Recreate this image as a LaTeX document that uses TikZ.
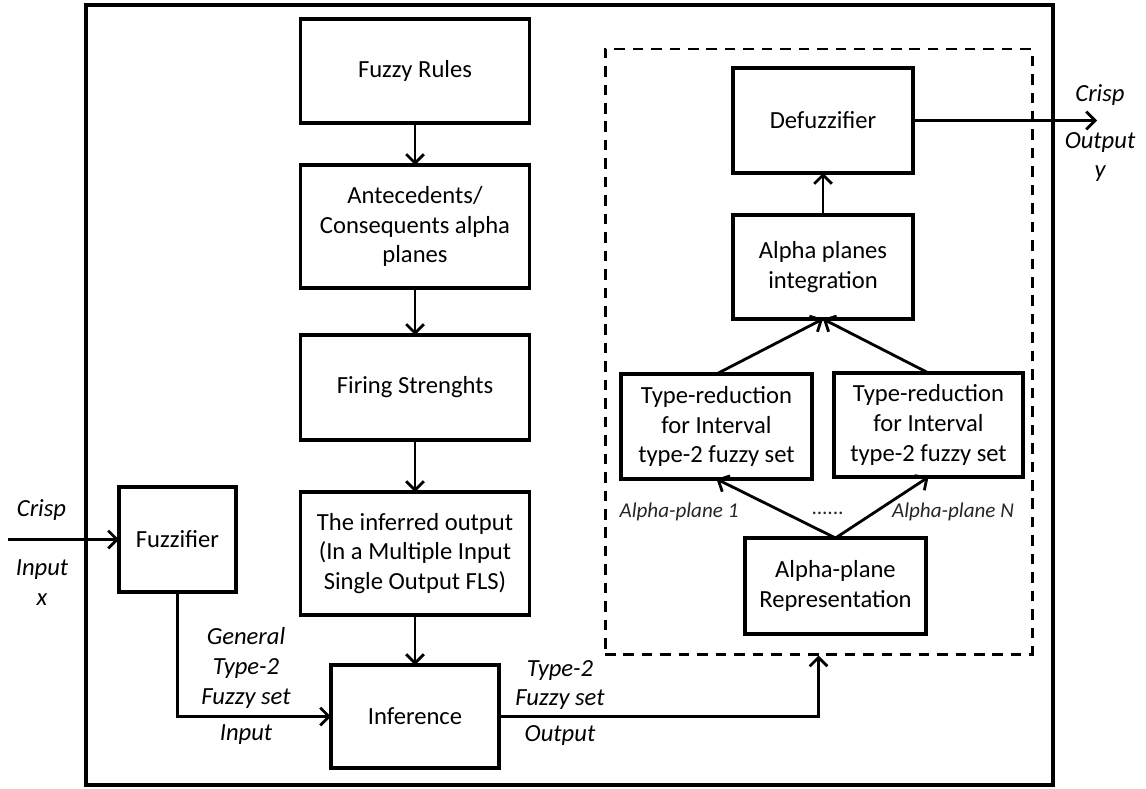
\documentclass[tikz,border=0pt]{standalone}
\usepackage{fontspec}
\setmainfont{Carlito}
\usetikzlibrary{positioning,arrows.meta}

\begin{document}
\begin{tikzpicture}[
    node distance=0.9cm,
    font=\fontsize{14}{17}\selectfont,
    % Node styles
    block/.style={draw, line width=1.8pt, align=center, minimum width=4.58cm, minimum height=2.08cm, inner sep=2pt, outer sep=0pt},
    frame/.style={draw, line width=1.8pt, inner sep=0pt},
    dframe/.style={draw, line width=1.7pt, dash pattern=on 6pt off 4.5pt, inner sep=0pt},
    lbl/.style={font=\fontsize{14}{17}\selectfont\itshape, align=center, inner sep=0pt},
    slbl/.style={font=\fontsize{12}{14}\selectfont\itshape, text=black!85, inner sep=0pt},
    arrow/.style={-{Straight Barb[length=5pt,width=10pt,line width=1.6pt]}, line width=1.6pt},
]
    \useasboundingbox (0,0) rectangle (22.92,-15.76);

    % Frames
    \node[frame, minimum width=19.34cm, minimum height=15.6cm] (fls) at (11.39,-7.9) {};
    \node[dframe, minimum width=8.54cm, minimum height=12.1cm] (alphabox) at (16.37,-7.03) {};

    % Inference chain
    \node[block] (rules) at (8.3,-1.42) {Fuzzy Rules};
    \node[block, minimum height=2.46cm, below=0.84cm of rules] (ante) {Antecedents/\\Consequents alpha\\planes};
    \node[block, minimum height=2.1cm, below=0.94cm of ante] (firing) {Firing Strenghts};
    \node[block, minimum height=2.46cm, below=1.04cm of firing] (inferred) {The inferred output\\(In a Multiple Input\\Single Output FLS)};
    \node[block, minimum width=3.36cm, minimum height=2.06cm, below=1.0cm of inferred] (inference) {Inference};
    \node[block, minimum width=2.34cm, minimum height=2.1cm] (fuzz) at (3.55,-10.79) {Fuzzifier};

    % Alpha-plane processing
    \node[block, minimum width=3.6cm, minimum height=2.1cm] (defuzz) at (16.46,-2.41) {Defuzzifier};
    \node[block, minimum width=3.6cm, below=0.84cm of defuzz] (integ) {Alpha planes\\integration};
    \node[block, minimum width=3.82cm, minimum height=2.1cm] (trl) at (14.33,-8.53) {Type-reduction\\for Interval\\type-2 fuzzy set};
    \node[block, minimum width=3.78cm, minimum height=2.08cm] (trr) at (18.57,-8.5) {Type-reduction\\for Interval\\type-2 fuzzy set};
    \node[block, minimum width=3.62cm, minimum height=1.92cm] (rep) at (16.71,-11.72) {Alpha-plane\\Representation};

    % Free ends
    \coordinate (xin) at (0.16,-10.79);
    \coordinate (yout) at (21.94,-2.41);

    % Connections
    \draw[arrow] (rules) -- (ante);
    \draw[arrow] (ante) -- (firing);
    \draw[arrow] (firing) -- (inferred);
    \draw[arrow] (inferred.south) -- (inferred.south |- inference.north);
    \draw[arrow] (xin) -- (fuzz);
    \draw[arrow] (fuzz.south) |- (inference.west);
    \draw[arrow] (inference.east) -| (alphabox.south);
    \draw[arrow] (rep.north) -- (trl.south);
    \draw[arrow] (rep.north) -- (trr.south);
    \draw[arrow] (trl.north) -- (integ.south);
    \draw[arrow] (trr.north) -- (integ.south);
    \draw[arrow] (integ) -- (defuzz);
    \draw[arrow] (defuzz) -- (yout);

    % Signal labels
    \node[lbl] (crispin) at (0.83,-10.2) {Crisp};
    \node[lbl] (inputx) at (0.84,-11.65) {Input\\x};
    \node[lbl] (gt2) at (4.92,-13.36) {General\\Type-2\\Fuzzy set};
    \node[lbl] (gt2in) at (4.92,-14.7) {Input};
    \node[lbl] (t2) at (11.2,-13.7) {Type-2\\Fuzzy set};
    \node[lbl] (t2out) at (11.2,-14.7) {Output};
    \node[lbl] (crispout) at (22.0,-1.9) {Crisp};
    \node[lbl] (outputy) at (22.0,-3.14) {Output\\y};
    \node[slbl] (ap1) at (13.58,-10.24) {Alpha-plane 1};
    \node[slbl] (apdots) at (16.56,-10.26) {......};
    \node[slbl] (apn) at (19.06,-10.24) {Alpha-plane N};

\end{tikzpicture}
\end{document}
